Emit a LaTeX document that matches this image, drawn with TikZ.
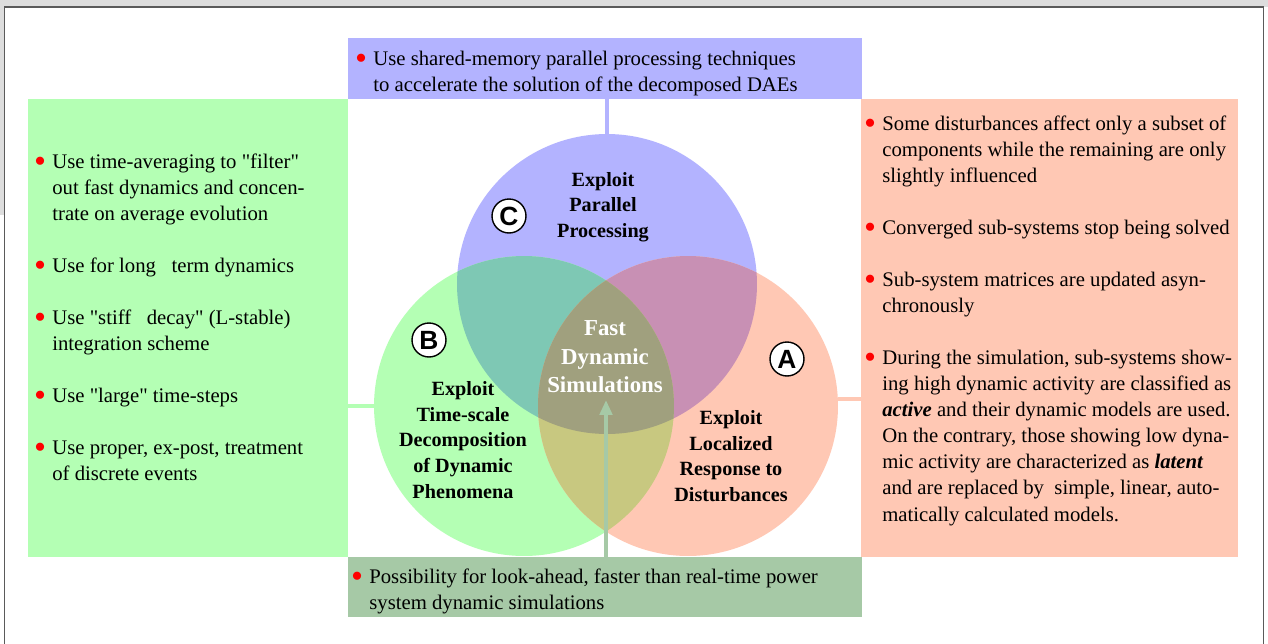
\documentclass[tikz,border=0pt]{standalone}
\usepackage{fontspec}
\setmainfont{Liberation Serif}[Ligatures=TeXOff]
\newfontfamily\lettrfont{Liberation Sans}
\usetikzlibrary{arrows.meta,positioning}

\definecolor{boxGreen}{RGB}{180,255,180}
\definecolor{boxBlue}{RGB}{179,179,255}
\definecolor{boxOrange}{RGB}{255,200,180}
\definecolor{boxBottom}{RGB}{166,201,166}
\definecolor{lapBC}{RGB}{126,200,180}
\definecolor{lapCA}{RGB}{200,144,180}
\definecolor{lapAB}{RGB}{200,200,128}
\definecolor{lapABC}{RGB}{160,160,126}
\definecolor{frameGray}{RGB}{90,90,90}
\definecolor{backGray}{RGB}{221,221,221}

\newcommand{\redbul}{\llap{\textcolor{red}{\raisebox{1.5pt}{$\bullet$}}\hspace{4pt}}}

\begin{document}
\begin{tikzpicture}
[x=0.02cm, y=-0.02cm,
  panelDecorate/.style={shape=rectangle,anchor=north west,inner sep=0pt,outer sep=0pt},
  ringDecorate/.style={shape=circle,inner sep=0pt,outer sep=0pt,minimum size=6cm},
  textDecorate/.style={anchor=north west,inner sep=0pt,align=left,font=\fontsize{11.8}{14.8}\selectfont},
  labelDecorate/.style={inner sep=0pt,align=center,font=\bfseries\fontsize{11.5}{14.6}\selectfont},
  letterDecorate/.style={shape=circle,draw=black,line width=0.8pt,fill=white,minimum size=0.68cm,inner sep=0pt,font=\lettrfont\bfseries\fontsize{15}{15}\selectfont},
  linkDecorate/.style={-,line width=2.8pt}]
\useasboundingbox (0,0) rectangle (1268,643);
%% page and frame
\fill[white] (0,0) rectangle (1268,643);
\fill[backGray] (0,0) rectangle (1268,7);
\fill[backGray] (0,7) rectangle (4,215);
\draw[frameGray,line width=1.1pt] (4.5,650) -- (4.5,7) -- (1263.5,7) -- (1263.5,650);
%% panels
\node[panelDecorate,fill=boxBlue,minimum width=10.28cm,minimum height=1.22cm] (boxC) at (348,38) {};
\node[panelDecorate,fill=boxGreen,minimum width=6.4cm,minimum height=9.16cm] (boxB) at (28,99) {};
\node[panelDecorate,fill=boxOrange,minimum width=7.54cm,minimum height=9.16cm] (boxA) at (861,99) {};
\node[panelDecorate,fill=boxBottom,minimum width=10.28cm,minimum height=1.2cm] (boxF) at (348,557) {};
%% circles
\node[ringDecorate,fill=boxBlue] (circC) at (607,284) {};
\node[ringDecorate,fill=boxGreen] (circB) at (524,406) {};
\node[ringDecorate,fill=boxOrange] (circA) at (688,406) {};
\begin{scope}
  \clip (circB.center) circle [radius=3cm];
  \fill[lapBC] (circC.center) circle [radius=3cm];
\end{scope}
\begin{scope}
  \clip (circC.center) circle [radius=3cm];
  \fill[lapCA] (circA.center) circle [radius=3cm];
\end{scope}
\begin{scope}
  \clip (circA.center) circle [radius=3cm];
  \fill[lapAB] (circB.center) circle [radius=3cm];
\end{scope}
\begin{scope}
  \clip (circA.center) circle [radius=3cm];
  \clip (circB.center) circle [radius=3cm];
  \fill[lapABC] (circC.center) circle [radius=3cm];
\end{scope}
%% links
\coordinate (tapA) at ([yshift=4pt]circA.east);
\coordinate (tip) at (606,400);
\draw[linkDecorate,boxBlue] (boxC.south -| circC.north) -- (circC.north);
\draw[linkDecorate,boxGreen] (boxB.east |- circB.west) -- (circB.west);
\draw[linkDecorate,boxOrange] (tapA) -- (tapA -| boxA.west);
\draw[linkDecorate,boxBottom,-{Triangle[width=7pt,length=8.5pt]}] (boxF.north -| tip) -- (tip);
%% circle letters and labels
\node[letterDecorate] (letC) at (509,216) {C};
\node[letterDecorate] (letB) at (429,340) {B};
\node[letterDecorate] (letA) at (787,359) {A};
\node[labelDecorate] (lblC) at (603,207) {Exploit\\Parallel\\Processing};
\node[labelDecorate,text=white,font=\bfseries\fontsize{13}{16.2}\selectfont] (lblFast) at (605,357) {Fast\\Dynamic\\Simulations};
\node[labelDecorate] (lblB) at (463,440) {Exploit\\Time-scale\\Decomposition\\of Dynamic\\Phenomena};
\node[labelDecorate] (lblA) at (731,456) {Exploit\\Localized\\Response to\\Disturbances};
%% panel texts
\node[textDecorate] (txtC) at (373,51) {\redbul Use shared-memory parallel processing techniques\\to accelerate the solution of the decomposed DAEs};
\node[textDecorate] (txtB) at (52,154) {\redbul Use time-averaging to "filter"\\out fast dynamics and concen-\\trate on average evolution\\[14.8pt]%
  \redbul Use for long\ \ \ term dynamics\\[14.8pt]%
  \redbul Use "stiff\ \ \ decay" (L-stable)\\integration scheme\\[14.8pt]%
  \redbul Use "large" time-steps\\[14.8pt]%
  \redbul Use proper, ex-post, treatment\\of discrete events};
\node[textDecorate] (txtA) at (882,116) {\redbul Some disturbances affect only a subset of\\components while the remaining are only\\slightly influenced\\[14.8pt]%
  \redbul Converged sub-systems stop being solved\\[14.8pt]%
  \redbul Sub-system matrices are updated asyn-\\chronously\\[14.8pt]%
  \redbul During the simulation, sub-systems show-\\ing high dynamic activity are classified as\\\textbf{\textit{active}} and their dynamic models are used.\\On the contrary, those showing low dyna-\\mic activity are characterized as \textbf{\textit{latent}}\\and are replaced by\ \ simple, linear, auto-\\matically calculated models.};
\node[textDecorate] (txtF) at (369,569) {\redbul Possibility for look-ahead, faster than real-time power\\system dynamic simulations};
\end{tikzpicture}
\end{document}
